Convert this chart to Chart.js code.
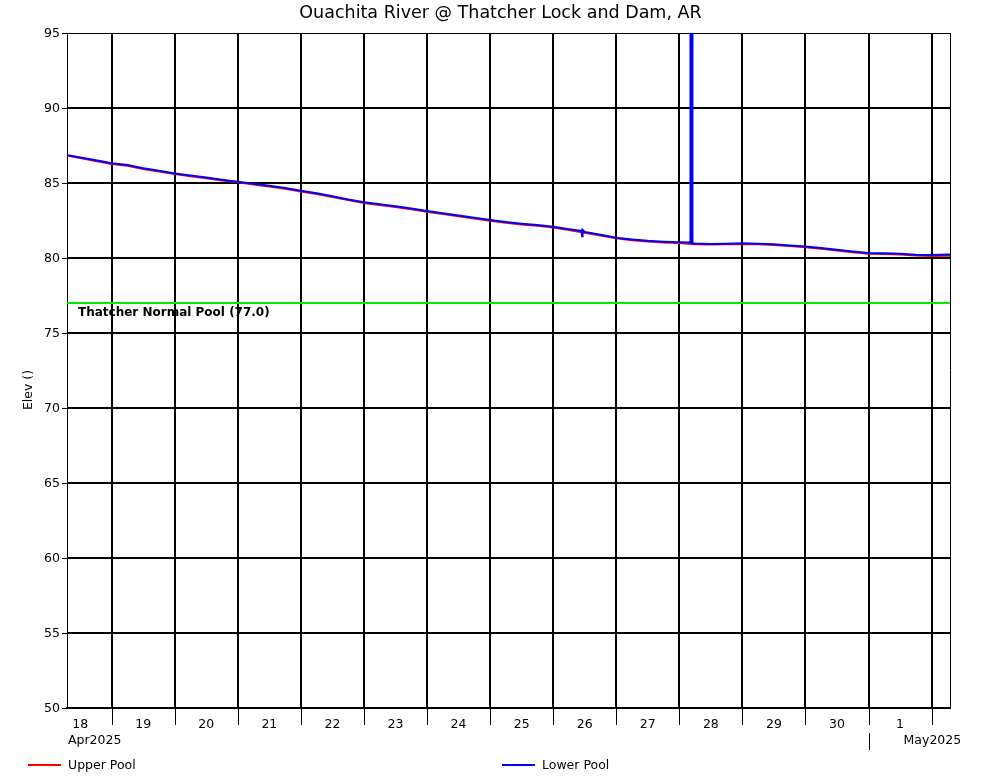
<!DOCTYPE html>
<html>
<head>
<meta charset="utf-8">
<script src="https://cdn.jsdelivr.net/npm/chart.js@4.4.0/dist/chart.umd.min.js"></script>
<style>
html,body{margin:0;padding:0;background:#fff;}
canvas{display:block;}
</style>
</head>
<body>
<canvas id="c" width="1001" height="780"></canvas>
<script>
// ---- data (hours counted from 18 Apr 2025 00:00) ----
const chartTitle = 'Ouachita River @ Thatcher Lock and Dam, AR';
const yAxisTitle = 'Elev ()';
const seriesNames = ['Upper Pool', 'Lower Pool'];
const normalPoolName = 'Thatcher Normal Pool (77.0)';
const normalPool = 77.0;

const hours = [6,12,18,24,30,36,42,48,54,60,66,72,78,84,90,96,102,108,114,120,126,132,138,144,150,156,162,168,174,180,186,192,198,204,210,216,222,228,234,240,246,252,258,264,270,276,282,288,294,300,306,312,318,324,330,336,342,348];
const upperPool = [86.86,86.66,86.47,86.27,86.15,85.94,85.77,85.60,85.45,85.31,85.17,85.05,84.90,84.76,84.61,84.44,84.26,84.07,83.86,83.67,83.53,83.40,83.25,83.08,82.93,82.79,82.63,82.48,82.35,82.24,82.15,82.04,81.87,81.69,81.50,81.31,81.19,81.10,81.04,81.00,80.92,80.90,80.92,80.94,80.91,80.87,80.80,80.72,80.61,80.50,80.38,80.29,80.27,80.23,80.16,80.13,80.15,80.17];
const lowerPool = [86.90,86.70,86.52,86.31,86.20,85.98,85.82,85.64,85.50,85.36,85.22,85.09,84.95,84.81,84.66,84.49,84.31,84.12,83.90,83.71,83.58,83.45,83.30,83.13,82.98,82.84,82.68,82.53,82.40,82.29,82.20,82.09,81.92,81.74,81.55,81.35,81.24,81.15,81.09,81.05,80.96,80.93,80.95,80.98,80.95,80.91,80.84,80.76,80.66,80.55,80.43,80.33,80.32,80.29,80.22,80.20,80.23,80.26];
// short excursions seen only in the lower pool record
const lowerSpikeHours = [202.8,203.0,203.2,244.2,244.25,244.95,245.0];
const lowerSpikeElev  = [81.80,81.45,81.88,81.03,120.0,120.0,80.97];

const xMinHour = 7;
const xMaxHour = 343;
const dayGridHours = [24,48,72,96,120,144,168,192,216,240,264,288,312,336];
const dayLabelHours = [12,36,60,84,108,132,156,180,204,228,252,276,300,324];
const dayLabels = ['18','19','20','21','22','23','24','25','26','27','28','29','30','1'];
const monthLabels = ['Apr2025','May2025'];
const monthStartHours = [xMinHour, 312];
const yTicks = [50,55,60,65,70,75,80,85,90,95];

// ---- build library structures ----
const upperData = hours.map((h,i)=>({x:h,y:upperPool[i]}));
const lowerData = hours.map((h,i)=>({x:h,y:lowerPool[i]}))
  .concat(lowerSpikeHours.map((h,i)=>({x:h,y:lowerSpikeElev[i]})))
  .sort((a,b)=>a.x-b.x);
const labelMap = {};
dayLabelHours.forEach((h,i)=>{labelMap[h]=dayLabels[i];});
const allXTicks = dayGridHours.concat(dayLabelHours).sort((a,b)=>a-b);
const FONT = '"DejaVu Sans", Verdana, sans-serif';
const TICK_SIZE = 12.5;

const overlay = {
  id: 'overlay',
  afterDraw(chart){
    const {ctx, chartArea:a, scales:{x,y}} = chart;
    ctx.save();
    ctx.strokeStyle = '#000';
    ctx.lineWidth = 1;
    // right border of plot
    ctx.beginPath();
    ctx.moveTo(a.right+0.5, a.top);
    ctx.lineTo(a.right+0.5, a.bottom);
    ctx.stroke();
    // crisp tick marks below the x axis (day boundaries)
    ctx.beginPath();
    dayGridHours.forEach(h=>{
      const px = Math.round(x.getPixelForValue(h)) + 0.5;
      ctx.moveTo(px, a.bottom);
      ctx.lineTo(px, a.bottom + 17);
    });
    // crisp tick marks left of the y axis
    yTicks.forEach(v=>{
      const py = Math.round(y.getPixelForValue(v)) + 0.5;
      ctx.moveTo(a.left - 5, py);
      ctx.lineTo(a.left, py);
    });
    ctx.stroke();
    // normal pool label
    ctx.fillStyle = '#000';
    ctx.font = 'bold 12px ' + FONT;
    ctx.textAlign = 'left';
    ctx.textBaseline = 'alphabetic';
    ctx.fillText(normalPoolName, a.left + 11, y.getPixelForValue(normalPool) + 12.5);
    // month labels
    ctx.font = TICK_SIZE + 'px ' + FONT;
    ctx.fillText(monthLabels[0], a.left + 1, 744);
    const mayPx = x.getPixelForValue(monthStartHours[1]);
    ctx.fillText(monthLabels[1], mayPx + 35, 744);
    // month boundary tick
    ctx.beginPath();
    ctx.moveTo(Math.round(mayPx)+0.5, 733);
    ctx.lineTo(Math.round(mayPx)+0.5, 750);
    ctx.stroke();
    // y axis title
    ctx.save();
    ctx.translate(32, 390);
    ctx.rotate(-Math.PI/2);
    ctx.textAlign = 'center';
    ctx.fillText(yAxisTitle, 0, 0);
    ctx.restore();
    // legend
    const items = [
      {label: chart.data.datasets[0].label, color: chart.data.datasets[0].borderColor, x0: 28},
      {label: chart.data.datasets[1].label, color: chart.data.datasets[1].borderColor, x0: 502}
    ];
    items.forEach(it=>{
      ctx.strokeStyle = it.color;
      ctx.lineWidth = 2;
      ctx.beginPath();
      ctx.moveTo(it.x0, 765);
      ctx.lineTo(it.x0 + 33, 765);
      ctx.stroke();
      ctx.fillStyle = '#000';
      ctx.textAlign = 'left';
      ctx.fillText(it.label, it.x0 + 40, 769);
    });
    ctx.restore();
  }
};

new Chart(document.getElementById('c'), {
  type: 'line',
  data: {
    datasets: [
      {label: seriesNames[0], data: upperData, borderColor: '#ff0000', borderWidth: 2, pointRadius: 0, tension: 0, order: 1},
      {label: seriesNames[1], data: lowerData, borderColor: '#0000ff', borderWidth: 2, pointRadius: 0, tension: 0, order: 0},
      {label: normalPoolName, data: [{x:xMinHour,y:normalPool},{x:xMaxHour,y:normalPool}], borderColor: '#00ee00', borderWidth: 2, pointRadius: 0, order: 2}
    ]
  },
  options: {
    responsive: false,
    animation: false,
    parsing: false,
    normalized: true,
    layout: {padding: 0},
    plugins: {
      legend: {display: false},
      tooltip: {enabled: false},
      title: {
        display: true,
        text: chartTitle,
        color: '#000',
        font: {family: FONT, size: 17.5, weight: 'normal'},
        padding: {top: 3, bottom: 9}
      }
    },
    scales: {
      x: {
        type: 'linear',
        min: xMinHour,
        max: xMaxHour,
        afterBuildTicks: s => { s.ticks = allXTicks.map(v=>({value:v})); },
        afterFit: s => { s.height = 72; },
        border: {display: true, color: '#000', width: 2},
        grid: {
          color: c => (c.tick && dayGridHours.includes(c.tick.value)) ? '#000' : 'rgba(0,0,0,0)',
          lineWidth: 2,
          drawTicks: false
        },
        ticks: {
          autoSkip: false,
          maxRotation: 0,
          minRotation: 0,
          padding: 9,
          color: '#000',
          font: {family: FONT, size: TICK_SIZE},
          callback: v => labelMap[v] !== undefined ? labelMap[v] : ''
        }
      },
      y: {
        type: 'linear',
        min: 50,
        max: 95,
        afterBuildTicks: s => { s.ticks = yTicks.map(v=>({value:v})); },
        afterFit: s => { s.width = 67; },
        border: {display: true, color: '#000', width: 1},
        grid: {
          color: '#000',
          lineWidth: c => (c.tick && c.tick.value === 95) ? 1 : 2,
          drawTicks: false
        },
        ticks: {
          padding: 7,
          labelOffset: 1,
          color: '#000',
          font: {family: FONT, size: TICK_SIZE},
          callback: v => String(v)
        }
      },
      yRight: {
        position: 'right',
        display: true,
        min: 50,
        max: 95,
        afterFit: s => { s.width = 51; },
        border: {display: false},
        grid: {display: false, drawTicks: false},
        ticks: {display: false}
      }
    }
  },
  plugins: [overlay]
});
</script>
</body>
</html>
